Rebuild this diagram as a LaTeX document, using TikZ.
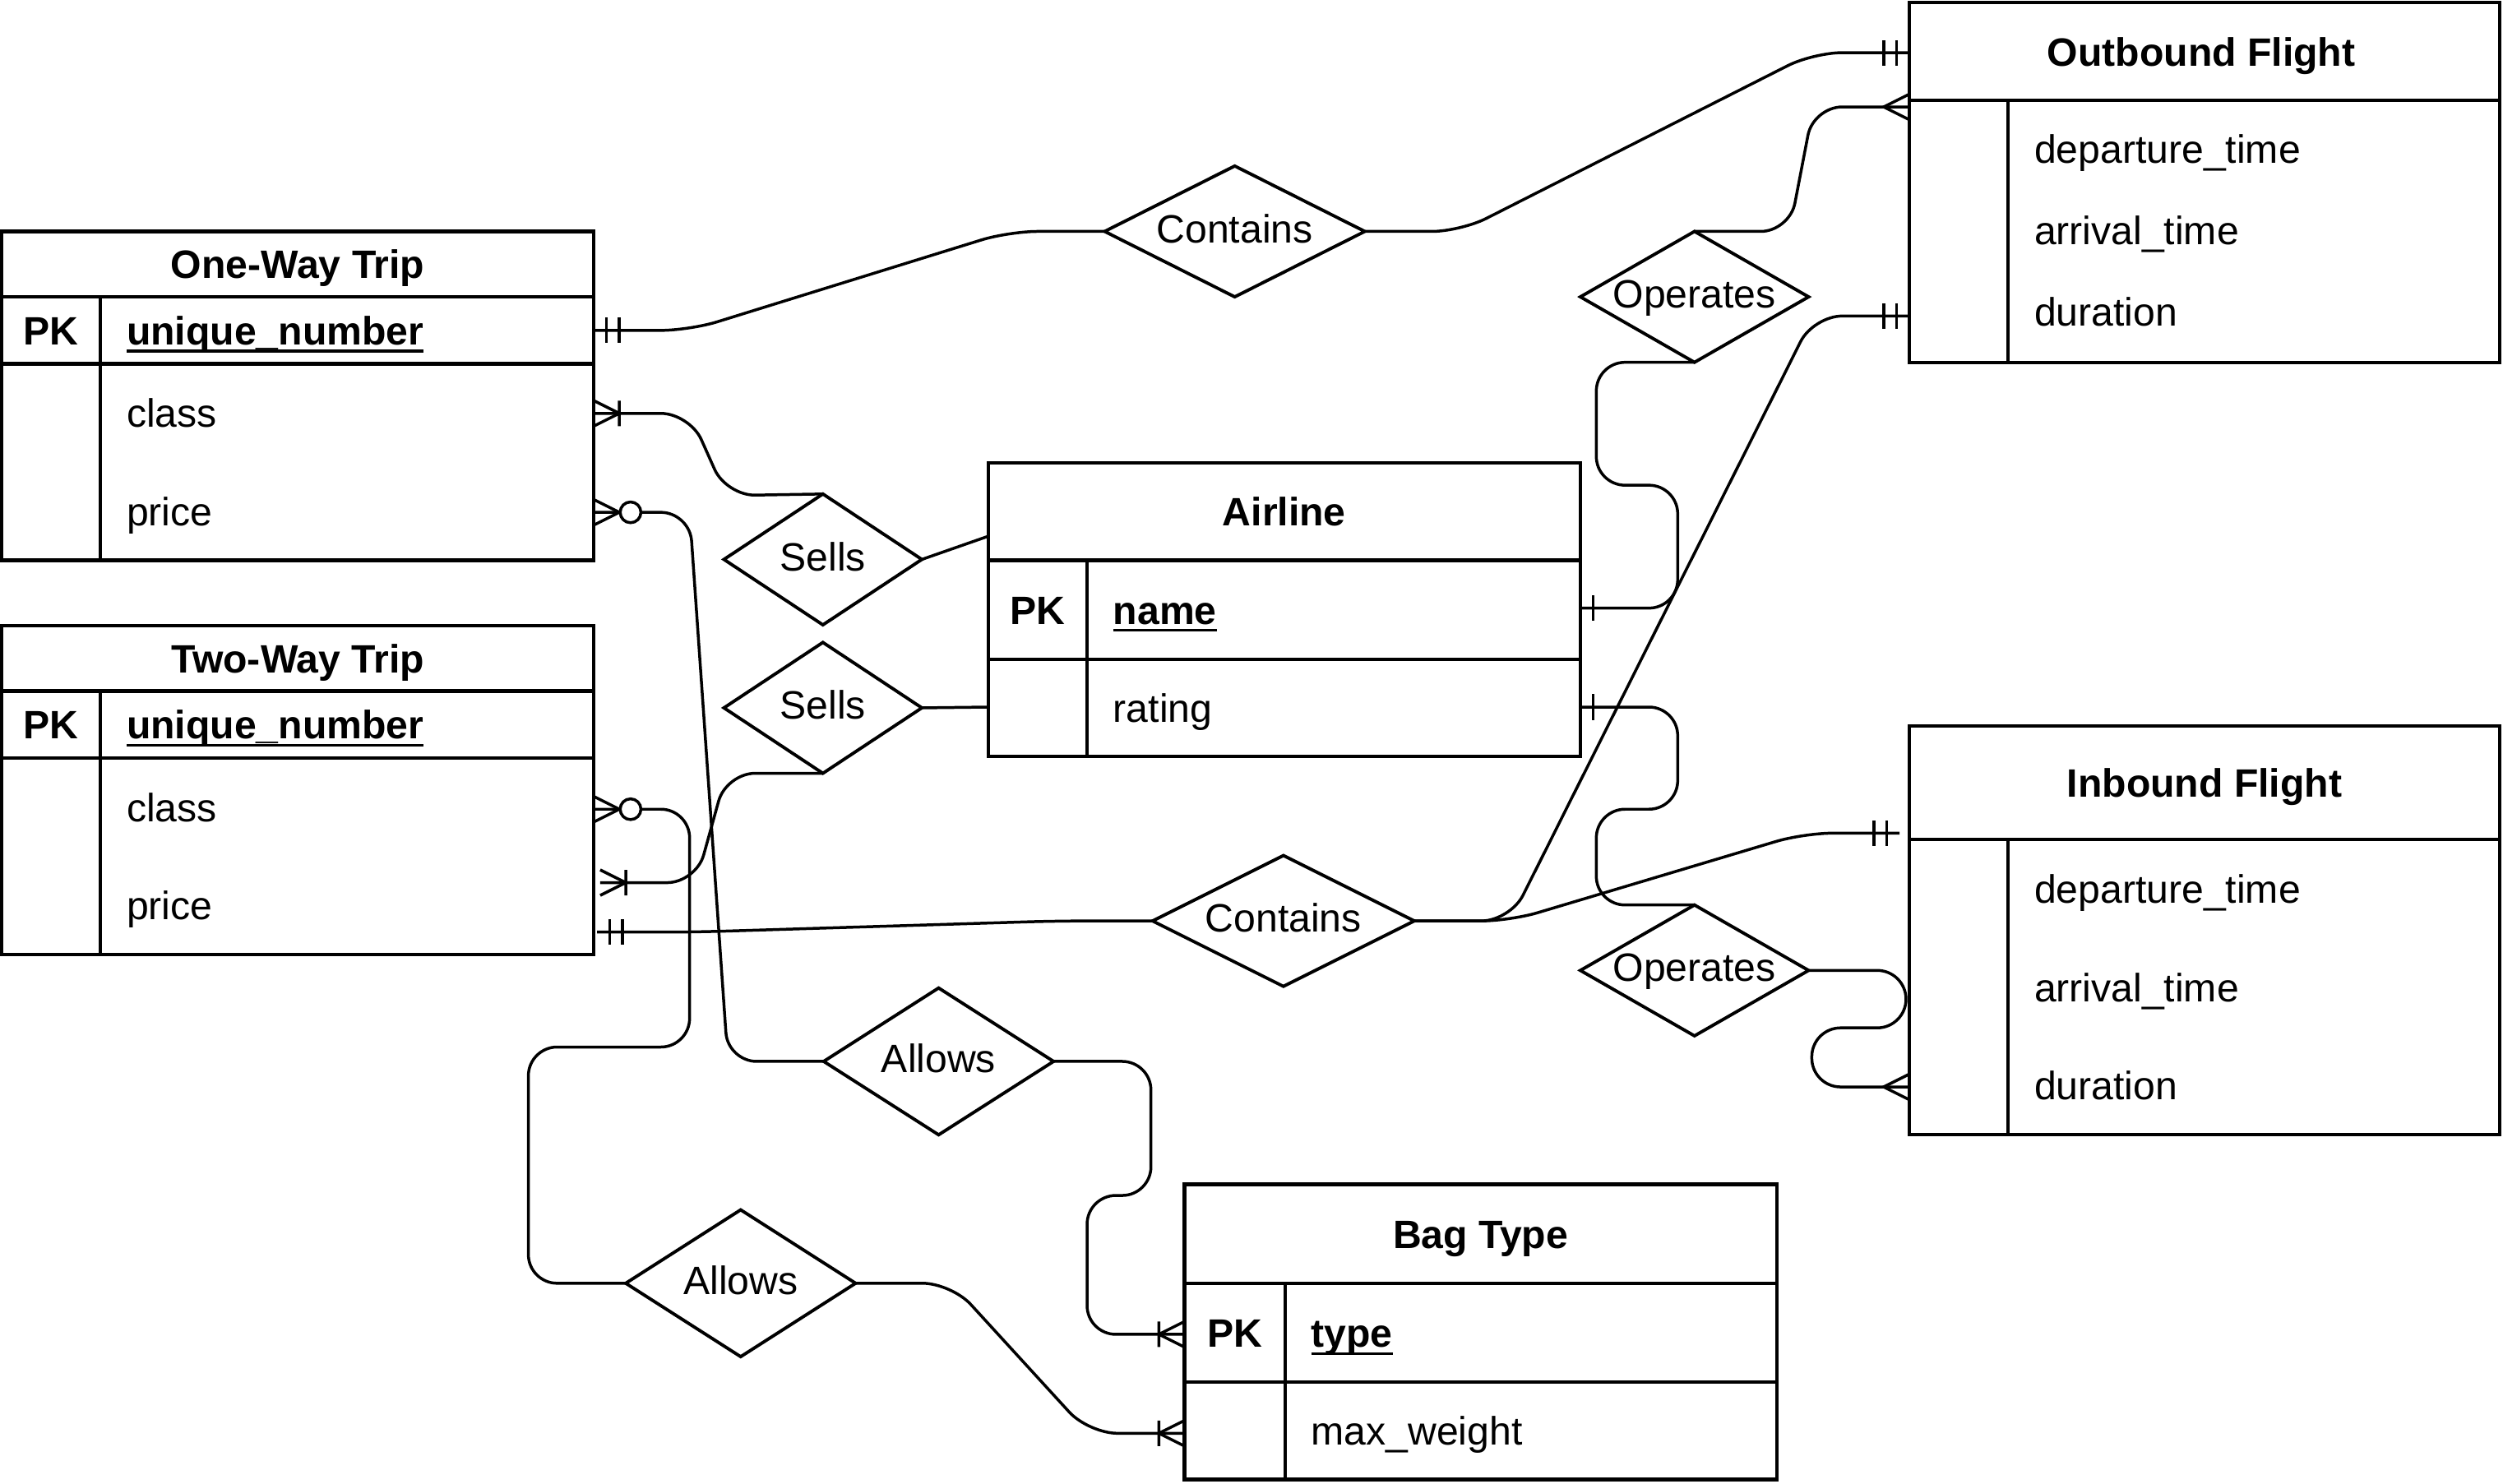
\documentclass[tikz,border=0pt]{standalone}
\usepackage{fontspec}
\setmainfont{Liberation Sans}
\usetikzlibrary{shapes.geometric,fit}
\newcommand{\keyul}[1]{\setbox0=\hbox{#1}\rlap{\rule[-2.4pt]{\wd0}{0.85pt}}\box0}
\begin{document}
\begin{tikzpicture}[x=0.5pt,y=-0.5pt,
  font=\fontsize{12.4pt}{15pt}\selectfont,
  ent/.style={draw, line width=1.1pt, inner sep=0pt, outer sep=0pt},
  eline/.style={line width=1.1pt},
  conn/.style={line width=0.9pt, rounded corners=9pt},
  mk/.style={line width=0.9pt},
  rel/.style={diamond, draw, line width=1pt, inner sep=0pt, outer sep=0pt},
  ttl/.style={anchor=base, inner sep=0pt, font=\fontsize{12.4pt}{15pt}\selectfont\bfseries},
  attr/.style={anchor=base west, inner sep=0pt},
  keyattr/.style={anchor=base west, inner sep=0pt, font=\fontsize{12.4pt}{15pt}\selectfont\bfseries},
  rtxt/.style={anchor=base, inner sep=0pt},
  mkmandone/.pic={\draw[mk] (8,-8) -- (8,8) (16,-8) -- (16,8);},
  mkone/.pic={\draw[mk] (8,-8) -- (8,8);},
  mkmany/.pic={\draw[mk] (0,-8) -- (16,0) -- (0,8);},
  mkonemany/.pic={\draw[mk] (0,-8) -- (16,0) -- (0,8) (16,-8) -- (16,8);},
  mkzeromany/.pic={\draw[mk] (0,-8) -- (16,0) -- (0,8); \draw[mk,fill=white] (23,0) circle[radius=3.25pt];}
]
\useasboundingbox (0,0) rectangle (1568,929.3);

% ---------- diamonds ----------
\node[rel, minimum width=81.5pt, minimum height=41pt] (c1) at (773.5,145) {};
\node[rtxt] (c1t) at (773.5,152) {Contains};
\node[rel, minimum width=71.5pt, minimum height=41pt] (o1) at (1061.5,186) {};
\node[rtxt] (o1t) at (1061.5,193) {Operates};
\node[rel, minimum width=62pt, minimum height=41pt] (s1) at (515.5,350.5) {};
\node[rtxt] (s1t) at (515.5,357.5) {Sells};
\node[rel, minimum width=62pt, minimum height=41pt] (s2) at (515.5,443.5) {};
\node[rtxt] (s2t) at (515.5,450.5) {Sells};
\node[rel, minimum width=82pt, minimum height=41pt] (c2) at (804,577) {};
\node[rtxt] (c2t) at (804,584) {Contains};
\node[rel, minimum width=71.5pt, minimum height=41pt] (o2) at (1061.5,608) {};
\node[rtxt] (o2t) at (1061.5,615) {Operates};
\node[rel, minimum width=72pt, minimum height=46pt] (a1) at (588,665) {};
\node[rtxt] (a1t) at (588,672) {Allows};
\node[rel, minimum width=72pt, minimum height=46pt] (a2) at (464,804) {};
\node[rtxt] (a2t) at (464,811) {Allows};

% ---------- entities ----------
% One-Way Trip
\node[ent, fit={(1,145) (372,351)}] (ow) {};
\draw[eline] (1,186) -- (372,186) (1,228) -- (372,228) (63,186) -- (63,351);
\node[ttl] (owt) at (186.5,174.5) {One-Way Trip};
\node[ttl] (owk) at (32,216) {PK};
\node[keyattr] (owa1) at (79,216) {\keyul{unique\_number}};
\node[attr] (owa2) at (79,267.75) {class};
\node[attr] (owa3) at (79,329.25) {price};

% Two-Way Trip
\node[ent, fit={(1,392) (372,598)}] (tw) {};
\draw[eline] (1,433) -- (372,433) (1,475) -- (372,475) (63,433) -- (63,598);
\node[ttl] (twt) at (186.5,421.5) {Two-Way Trip};
\node[ttl] (twk) at (32,463) {PK};
\node[keyattr] (twa1) at (79,463) {\keyul{unique\_number}};
\node[attr] (twa2) at (79,514.75) {class};
\node[attr] (twa3) at (79,576.25) {price};

% Airline
\node[ent, fit={(619,290) (990,474)}] (al) {};
\draw[eline] (619,351) -- (990,351) (619,413) -- (990,413) (681,351) -- (681,474);
\node[ttl] (alt) at (804.5,329.5) {Airline};
\node[ttl] (alk) at (650,391) {PK};
\node[keyattr] (ala1) at (697,391) {\keyul{name}};
\node[attr] (ala2) at (697,452.5) {rating};

% Outbound Flight
\node[ent, fit={(1196,1.5) (1566,227)}] (ob) {};
\draw[eline] (1196,63) -- (1566,63) (1258,63) -- (1258,227);
\node[ttl] (obt) at (1379,41.3) {Outbound Flight};
\node[attr] (oba1) at (1274,102) {departure\_time};
\node[attr] (oba2) at (1274,153) {arrival\_time};
\node[attr] (oba3) at (1274,204.5) {duration};

% Inbound Flight
\node[ent, fit={(1196,455) (1566,711)}] (ib) {};
\draw[eline] (1196,526) -- (1566,526) (1258,526) -- (1258,711);
\node[ttl] (ibt) at (1381,499.5) {Inbound Flight};
\node[attr] (iba1) at (1274,565.8) {departure\_time};
\node[attr] (iba2) at (1274,627.5) {arrival\_time};
\node[attr] (iba3) at (1274,689.2) {duration};

% Bag Type
\node[ent, fit={(742,742) (1113,927)}] (bg) {};
\draw[eline] (742,804) -- (1113,804) (742,866) -- (1113,866) (805,804) -- (805,927);
\node[ttl] (bgt) at (927.5,782) {Bag Type};
\node[ttl] (bgk) at (773.5,844) {PK};
\node[keyattr] (bga1) at (821,844) {\keyul{type}};
\node[attr] (bga2) at (821,905.5) {max\_weight};

% ---------- connection points ----------
\coordinate (owpk) at (372,207);
\coordinate (owcl) at (372,259);
\coordinate (owpr) at (372,321);
\coordinate (twcl) at (372,507);
\coordinate (twpa) at (376,553);
\coordinate (twpb) at (374,584);
\coordinate (alsl) at (619,336);
\coordinate (alsr) at (619,443);
\coordinate (alnm) at (990,381);
\coordinate (alrt) at (990,443);
\coordinate (obh) at (1196,33);
\coordinate (obd) at (1196,67);
\coordinate (obu) at (1196,198);
\coordinate (ibh) at (1190,522);
\coordinate (ibu) at (1196,681);
\coordinate (bgpk) at (742,836);
\coordinate (bgmw) at (742,898);

% ---------- connectors ----------
\draw[conn] (owpk) -- (432,207) -- (632,145) -- (c1.west);
\draw[conn] (c1.east) -- (915,145) -- (1136,33) -- (obh);
\draw[conn] (owcl) -- (432,259) -- (455,310.5) -- (s1.north);
\draw[conn] (s1.east) -- (alsl);
\draw[conn] (owpr) -- (432,321) -- (456,665) -- (a1.west);
\draw[conn] (twcl) -- (432,507) -- (432,656) -- (331,656) -- (331,804) -- (a2.west);
\draw[conn] (twpa) -- (436,553) -- (455,484.5) -- (s2.south);
\draw[conn] (s2.east) -- (alsr);
\draw[conn] (twpb) -- (434,584) -- (662,577) -- (c2.west);
\draw[conn] (c2.east) -- (946,577) -- (1136,198) -- (obu);
\draw[conn] (c2.east) -- (946,577) -- (1130,522) -- (ibh);
\draw[conn] (alnm) -- (1051,381) -- (1051,304) -- (1000,304) -- (1000,227) -- (o1.south);
\draw[conn] (o1.north) -- (1121,145) -- (1136,67) -- (obd);
\draw[conn] (alrt) -- (1051,443) -- (1051,507) -- (1000,507) -- (1000,567) -- (o2.north);
\draw[conn] (o2.east) -- (1194,608) -- (1194,644) -- (1135,644) -- (1135,681) -- (ibu);
\draw[conn] (a1.east) -- (721,665) -- (721,749) -- (681,749) -- (681,836) -- (bgpk);
\draw[conn] (a2.east) -- (596,804) -- (682,898) -- (bgmw);

% ---------- end markers ----------
\pic at (owpk) {mkmandone};
\pic at (owcl) {mkonemany};
\pic at (owpr) {mkzeromany};
\pic at (twcl) {mkzeromany};
\pic at (twpa) {mkonemany};
\pic at (twpb) {mkmandone};
\pic at (alnm) {mkone};
\pic at (alrt) {mkone};
\pic[rotate=180] at (obh) {mkmandone};
\pic[rotate=180] at (obd) {mkmany};
\pic[rotate=180] at (obu) {mkmandone};
\pic[rotate=180] at (ibh) {mkmandone};
\pic[rotate=180] at (ibu) {mkmany};
\pic[rotate=180] at (bgpk) {mkonemany};
\pic[rotate=180] at (bgmw) {mkonemany};
\end{tikzpicture}
\end{document}
